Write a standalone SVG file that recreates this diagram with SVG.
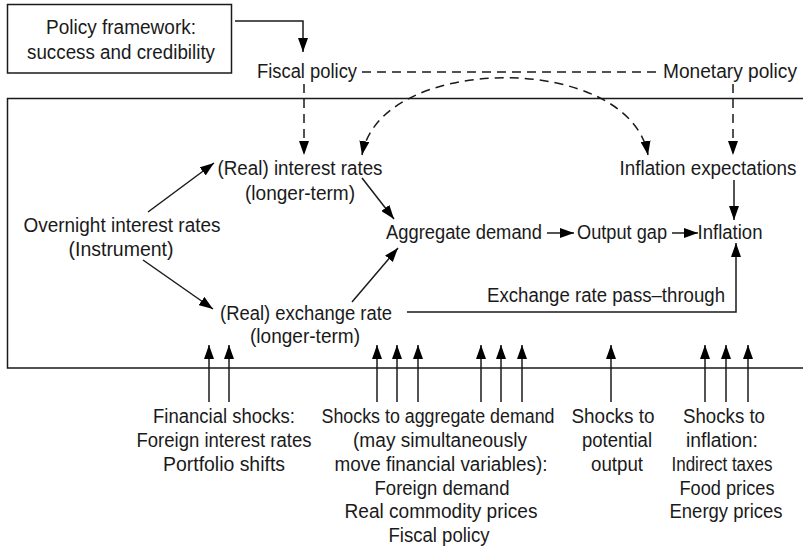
<svg xmlns="http://www.w3.org/2000/svg" width="803" height="548" viewBox="0 0 803 548">
<defs>
<marker id="ah" markerUnits="userSpaceOnUse" viewBox="0 0 14 10" markerWidth="14" markerHeight="10" refX="14" refY="5" orient="auto-start-reverse">
<path d="M0,0 L14,5 L0,10 z" fill="#000"/>
</marker>
<style>
text{font-family:"Liberation Sans",Arial,sans-serif;font-size:20px;fill:#1a1a1a;text-anchor:middle}
.ln{fill:none;stroke:#1a1a1a;stroke-width:1.5}
.ar{marker-end:url(#ah)}
.ds{stroke-dasharray:9 6}
</style>
</defs>
<path class="ln" d="M803,98.5 H7.5 V368 H803"/>
<g id="policy-framework">
<rect x="7.5" y="4.5" width="224" height="68.5" fill="#fff" stroke="#1a1a1a" stroke-width="1.5"/>
<text x="121" y="34" textLength="150" lengthAdjust="spacingAndGlyphs">Policy framework:</text>
<text x="121" y="59" textLength="188" lengthAdjust="spacingAndGlyphs">success and credibility</text>
</g>
<g id="fiscal-policy"><text x="307" y="78" textLength="100" lengthAdjust="spacingAndGlyphs">Fiscal policy</text></g>
<g id="monetary-policy"><text x="730" y="78" textLength="134" lengthAdjust="spacingAndGlyphs">Monetary policy</text></g>
<g id="real-interest-rates"><text x="300" y="175" textLength="165" lengthAdjust="spacingAndGlyphs">(Real) interest rates</text><text x="300" y="200" textLength="110" lengthAdjust="spacingAndGlyphs">(longer-term)</text></g>
<g id="overnight"><text x="122" y="232" textLength="197" lengthAdjust="spacingAndGlyphs">Overnight interest rates</text><text x="121" y="256" textLength="105" lengthAdjust="spacingAndGlyphs">(Instrument)</text></g>
<g id="real-exchange-rate"><text x="306" y="320" textLength="172" lengthAdjust="spacingAndGlyphs">(Real) exchange rate</text><text x="305" y="343" textLength="110" lengthAdjust="spacingAndGlyphs">(longer-term)</text></g>
<g id="aggregate-demand"><text x="464" y="239" textLength="156" lengthAdjust="spacingAndGlyphs">Aggregate demand</text></g>
<g id="output-gap"><text x="622" y="239" textLength="90" lengthAdjust="spacingAndGlyphs">Output gap</text></g>
<g id="inflation"><text x="730" y="239" textLength="65" lengthAdjust="spacingAndGlyphs">Inflation</text></g>
<g id="inflation-expectations"><text x="708" y="175" textLength="177" lengthAdjust="spacingAndGlyphs">Inflation expectations</text></g>
<g id="pass-through-label"><text x="606" y="302" textLength="238" lengthAdjust="spacingAndGlyphs">Exchange rate pass–through</text></g>
<g id="financial-shocks"><text x="224" y="423" textLength="142" lengthAdjust="spacingAndGlyphs">Financial shocks:</text><text x="224" y="447" textLength="175" lengthAdjust="spacingAndGlyphs">Foreign interest rates</text><text x="224" y="471" textLength="122" lengthAdjust="spacingAndGlyphs">Portfolio shifts</text></g>
<g id="demand-shocks"><text x="438" y="423" textLength="233" lengthAdjust="spacingAndGlyphs">Shocks to aggregate demand</text><text x="440" y="447" textLength="174" lengthAdjust="spacingAndGlyphs">(may simultaneously</text><text x="441" y="471" textLength="213" lengthAdjust="spacingAndGlyphs">move financial variables):</text><text x="442" y="495" textLength="135" lengthAdjust="spacingAndGlyphs">Foreign demand</text><text x="441" y="518" textLength="193" lengthAdjust="spacingAndGlyphs">Real commodity prices</text><text x="439" y="542" textLength="101" lengthAdjust="spacingAndGlyphs">Fiscal policy</text></g>
<g id="potential-output-shocks"><text x="613" y="423" textLength="83" lengthAdjust="spacingAndGlyphs">Shocks to</text><text x="617" y="447" textLength="70" lengthAdjust="spacingAndGlyphs">potential</text><text x="617" y="471" textLength="52" lengthAdjust="spacingAndGlyphs">output</text></g>
<g id="inflation-shocks"><text x="724" y="423" textLength="82" lengthAdjust="spacingAndGlyphs">Shocks to</text><text x="722" y="447" textLength="72" lengthAdjust="spacingAndGlyphs">inflation:</text><text x="722" y="471" textLength="101" lengthAdjust="spacingAndGlyphs">Indirect taxes</text><text x="727" y="495" textLength="95" lengthAdjust="spacingAndGlyphs">Food prices</text><text x="726" y="518" textLength="113" lengthAdjust="spacingAndGlyphs">Energy prices</text></g>
<g id="connectors">
<path class="ln ar" d="M235,21 H303 V52"/>
<path class="ln ar ds" d="M304,84 V155"/>
<path class="ln ar ds" d="M733,84 V155"/>
<path class="ln ds" d="M362,72 H657"/>
<path class="ln ds ar" d="M362,155 C380,52 630,52 648,155" marker-start="url(#ah)"/>
<path class="ln ar" d="M148,212 L214,163"/>
<path class="ln ar" d="M143,260 L213,309"/>
<path class="ln ar" d="M362,178 L394,219"/>
<path class="ln ar" d="M352,302 L398,248"/>
<path class="ln ar" d="M547,233 H574"/>
<path class="ln ar" d="M672,233 H698"/>
<path class="ln ar" d="M734,180 V220"/>
<path class="ln ar" d="M407,312 H736 V243"/>
<path class="ln ar" d="M209,402 V345"/>
<path class="ln ar" d="M229,402 V345"/>
<path class="ln ar" d="M377,402 V345"/>
<path class="ln ar" d="M397,402 V345"/>
<path class="ln ar" d="M418,402 V345"/>
<path class="ln ar" d="M481,402 V345"/>
<path class="ln ar" d="M501,402 V345"/>
<path class="ln ar" d="M522,402 V345"/>
<path class="ln ar" d="M611,402 V345"/>
<path class="ln ar" d="M705,402 V345"/>
<path class="ln ar" d="M726,402 V345"/>
<path class="ln ar" d="M748,402 V345"/>
</g>
</svg>
